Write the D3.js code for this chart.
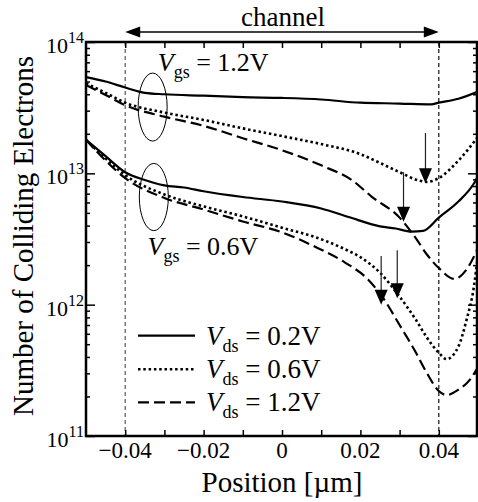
<!DOCTYPE html>
<html>
<head>
<meta charset="utf-8">
<script src="https://cdn.jsdelivr.net/npm/d3@7"></script>
<style>
  body { margin: 0; background: #fff; }
  text { font-family: "Liberation Serif", "Times New Roman", serif; fill: #000; }
</style>
</head>
<body>
<div id="chart"></div>
<script>
// ---- data (position in um, number of colliding electrons) ----
var gs12_ds02 = [[-0.05, 5.4e13], [-0.045, 5.0e13], [-0.04, 4.5e13], [-0.035, 4.1e13], [-0.03, 4.0e13],
  [-0.02, 3.9e13], [-0.01, 3.8e13], [0, 3.75e13], [0.01, 3.65e13], [0.02, 3.45e13], [0.03, 3.4e13],
  [0.038, 3.35e13], [0.04, 3.45e13], [0.045, 3.7e13], [0.05, 4.2e13]];
var gs12_ds06 = [[-0.05, 4.85e13], [-0.045, 4.1e13], [-0.04, 3.45e13], [-0.03, 2.9e13], [-0.02, 2.55e13],
  [-0.01, 2.2e13], [0, 1.92e13], [0.01, 1.67e13], [0.02, 1.4e13], [0.025, 1.2e13], [0.03, 1.02e13],
  [0.035, 8.8e12], [0.037, 8.6e12], [0.04, 9.2e12], [0.045, 1.25e13], [0.05, 1.9e13]];
var gs12_ds12 = [[-0.05, 4.7e13], [-0.045, 3.95e13], [-0.04, 3.3e13], [-0.03, 2.7e13], [-0.02, 2.3e13],
  [-0.01, 1.85e13], [0, 1.5e13], [0.01, 1.15e13], [0.018, 8.8e12], [0.023, 6.6e12], [0.03, 4.6e12],
  [0.034, 3.25e12], [0.037, 2.4e12], [0.04, 1.9e12], [0.044, 1.57e12], [0.047, 1.84e12], [0.05, 2.7e12]];
var gs06_ds02 = [[-0.05, 1.8e13], [-0.045, 1.35e13], [-0.04, 1.02e13], [-0.035, 8.9e12], [-0.03, 8.1e12],
  [-0.025, 7.8e12], [-0.02, 7.3e12], [-0.01, 6.6e12], [0, 6.1e12], [0.01, 5.4e12], [0.017, 4.65e12],
  [0.025, 3.95e12], [0.029, 3.8e12], [0.033, 3.6e12], [0.036, 3.65e12], [0.04, 4.6e12], [0.045, 6.1e12],
  [0.049, 8.4e12], [0.05, 9.5e12]];
var gs06_ds06 = [[-0.05, 1.8e13], [-0.045, 1.3e13], [-0.04, 9.7e12], [-0.03, 6.9e12], [-0.02, 5.6e12],
  [-0.01, 4.7e12], [0, 3.85e12], [0.008, 3.3e12], [0.016, 2.65e12], [0.02, 2.3e12], [0.025, 1.75e12],
  [0.03, 1.15e12], [0.034, 7.8e11], [0.037, 5.6e11], [0.04, 4.3e11], [0.042, 3.85e11], [0.045, 4.8e11],
  [0.047, 7.5e11], [0.049, 1.4e12], [0.05, 2.4e12]];
var gs06_ds12 = [[-0.05, 1.8e13], [-0.045, 1.25e13], [-0.04, 9.2e12], [-0.03, 6.5e12], [-0.02, 5.3e12],
  [-0.01, 4.3e12], [0, 3.55e12], [0.008, 2.8e12], [0.016, 2.1e12], [0.022, 1.55e12], [0.026, 1.1e12],
  [0.03, 7.0e11], [0.034, 4.4e11], [0.037, 3.0e11], [0.04, 2.2e11], [0.042, 2.05e11], [0.045, 2.25e11],
  [0.048, 2.7e11], [0.05, 3.35e11]];

var vdsLabels = ["0.2V", "0.6V", "1.2V"];
var vgsLabels = ["1.2V", "0.6V"];
var xTicks = [-0.04, -0.03, -0.02, -0.01, 0, 0.01, 0.02, 0.03, 0.04];
var xTickLabels = [-0.04, -0.02, 0, 0.02, 0.04];
var yDecades = [1e11, 1e12, 1e13, 1e14];
var channelEdges = [-0.04, 0.04];

// arrows marking the minima (x, top value, tip value)
var arrowX = [0.0366, 0.031, 0.0253, 0.0294];
var arrowTop = [2.03e13, 1.02e13, 2.35e12, 2.6e12];
var arrowTip = [8.4e12, 4.27e12, 1.0e12, 1.12e12];

// ellipses grouping the curves (x, top value, bottom value)
var ellipseX = [-0.033, -0.0327];
var ellipseTop = [5.8e13, 1.19e13];
var ellipseBottom = [1.76e13, 3.66e12];

// Vgs label anchors (x, value at baseline)
var vgsX = [-0.0317, -0.0343];
var vgsY = [6.0e13, 2.4e12];

var svgWidth = 478, svgHeight = 502;
var margin = {top: 42, right: 0, bottom: 66, left: 86};
var width = svgWidth - margin.left - margin.right;
var height = svgHeight - margin.top - margin.bottom;

var svg = d3.select("#chart").append("svg")
  .attr("width", svgWidth)
  .attr("height", svgHeight);

var chartGroup = svg.append("g")
  .attr("transform", `translate(${margin.left}, ${margin.top})`);

var x = d3.scaleLinear().domain([-0.05, 0.05]).range([0, width]);
var y = d3.scaleLog().domain([1e11, 1e14]).range([height, 0]);

// dashed channel edges
chartGroup.selectAll(".edge")
  .data(channelEdges)
  .enter().append("line")
  .attr("x1", d => x(d)).attr("x2", d => x(d))
  .attr("y1", 0).attr("y2", height)
  .attr("stroke", (d, i) => i === 0 ? "#555" : "#111")
  .attr("stroke-width", 1.2)
  .attr("stroke-dasharray", "4,3");

// axes
var minorTicks = y.ticks().filter(d => yDecades.indexOf(d) < 0);

function styleAxis(g) {
  g.select(".domain").remove();
  g.selectAll(".tick line").attr("stroke", "#000").attr("stroke-width", 1.5);
  g.selectAll(".tick text").remove();
}

chartGroup.append("g")
  .attr("transform", `translate(0, ${height})`)
  .call(d3.axisBottom(x).tickValues(xTicks).tickSizeInner(-6).tickSizeOuter(0))
  .call(styleAxis);
chartGroup.append("g")
  .call(d3.axisTop(x).tickValues(xTicks).tickSizeInner(-6).tickSizeOuter(0))
  .call(styleAxis);
chartGroup.append("g")
  .call(d3.axisLeft(y).tickValues(yDecades).tickSizeInner(-9).tickSizeOuter(0))
  .call(styleAxis);
chartGroup.append("g")
  .call(d3.axisLeft(y).tickValues(minorTicks).tickSizeInner(-4).tickSizeOuter(0))
  .call(styleAxis);
chartGroup.append("g")
  .attr("transform", `translate(${width - 1}, 0)`)
  .call(d3.axisRight(y).tickValues(yDecades).tickSizeInner(-9).tickSizeOuter(0))
  .call(styleAxis);
chartGroup.append("g")
  .attr("transform", `translate(${width - 1}, 0)`)
  .call(d3.axisRight(y).tickValues(minorTicks).tickSizeInner(-4).tickSizeOuter(0))
  .call(styleAxis);

// frame
chartGroup.append("rect")
  .attr("x", 0).attr("y", 0)
  .attr("width", width - 1).attr("height", height)
  .attr("fill", "none")
  .attr("stroke", "#000")
  .attr("stroke-width", 2.5);

// x tick labels
chartGroup.selectAll(".xlab")
  .data(xTickLabels)
  .enter().append("text")
  .attr("x", d => x(d))
  .attr("y", height + 22)
  .attr("text-anchor", "middle")
  .style("font-size", "23px")
  .text(d => d === 0 ? "0" : d3.format(".2f")(d));

// y tick labels 10^n
var ylab = chartGroup.selectAll(".ylab")
  .data(yDecades)
  .enter().append("text")
  .attr("x", -2)
  .attr("y", d => y(d) + 11)
  .attr("text-anchor", "end");
ylab.append("tspan").style("font-size", "22px").text("10");
ylab.append("tspan").attr("dy", -10).style("font-size", "16px").text(d => Math.round(Math.log10(d)));

// axis titles
svg.append("text")
  .attr("x", margin.left + x(0))
  .attr("y", 492)
  .attr("text-anchor", "middle")
  .style("font-size", "29px")
  .text("Position [µm]");

svg.append("text")
  .attr("transform", "rotate(-90)")
  .attr("x", -236)
  .attr("y", 33)
  .attr("text-anchor", "middle")
  .style("font-size", "29px")
  .text("Number of Colliding Electrons");

// curves
var dashes = ["none", "2.5,2.8", "11,5"];
var widths = [2.2, 2.6, 2.2];
var series = [gs12_ds02, gs12_ds06, gs12_ds12, gs06_ds02, gs06_ds06, gs06_ds12];

var line = d3.line()
  .x(d => x(d[0]))
  .y(d => y(d[1]))
  .curve(d3.curveMonotoneX);

chartGroup.selectAll(".curve")
  .data(series)
  .enter().append("path")
  .attr("d", line)
  .attr("fill", "none")
  .attr("stroke", "#000")
  .attr("stroke-width", (d, i) => widths[i % 3])
  .attr("stroke-dasharray", (d, i) => dashes[i % 3]);

// ellipses
chartGroup.selectAll(".ring")
  .data(ellipseX)
  .enter().append("ellipse")
  .attr("cx", d => x(d))
  .attr("cy", (d, i) => (y(ellipseTop[i]) + y(ellipseBottom[i])) / 2)
  .attr("rx", 14.5)
  .attr("ry", (d, i) => (y(ellipseBottom[i]) - y(ellipseTop[i])) / 2)
  .attr("fill", "none")
  .attr("stroke", "#000")
  .attr("stroke-width", 1);

// Vgs labels
var vgsText = chartGroup.selectAll(".vgs")
  .data(vgsLabels)
  .enter().append("text")
  .attr("x", (d, i) => x(vgsX[i]))
  .attr("y", (d, i) => y(vgsY[i]))
  .style("font-size", "26px");
vgsText.append("tspan").style("font-style", "italic").text("V");
vgsText.append("tspan").attr("dy", 7).style("font-size", "18px").text("gs");
vgsText.append("tspan").attr("dy", -7).text(d => " = " + d);

// arrows
arrowX.forEach(function(ax, i) {
  var px = x(ax), top = y(arrowTop[i]), tip = y(arrowTip[i]);
  chartGroup.append("line")
    .attr("x1", px).attr("x2", px)
    .attr("y1", top).attr("y2", tip - 10)
    .attr("stroke", "#222")
    .attr("stroke-width", 1.2);
  chartGroup.append("path")
    .attr("d", `M${px},${tip} L${px - 6.5},${tip - 15} L${px + 6.5},${tip - 15} Z`)
    .attr("fill", "#000");
});

// channel arrow
var cy = -10;
var cx0 = x(channelEdges[0]), cx1 = x(channelEdges[1]);
chartGroup.append("line")
  .attr("x1", cx0 + 8).attr("x2", cx1 - 8)
  .attr("y1", cy).attr("y2", cy)
  .attr("stroke", "#000")
  .attr("stroke-width", 1.3);
chartGroup.append("path")
  .attr("d", `M${cx0},${cy} L${cx0 + 15},${cy - 5.5} L${cx0 + 15},${cy + 5.5} Z`)
  .attr("fill", "#000");
chartGroup.append("path")
  .attr("d", `M${cx1},${cy} L${cx1 - 15},${cy - 5.5} L${cx1 - 15},${cy + 5.5} Z`)
  .attr("fill", "#000");
chartGroup.append("text")
  .attr("x", x(0) + 1)
  .attr("y", cy - 6)
  .attr("text-anchor", "middle")
  .style("font-size", "27px")
  .text("channel");

// legend
var legendY = [335.7, 369.3, 402.3];
var legend = svg.selectAll(".legend")
  .data(vdsLabels)
  .enter().append("g")
  .attr("transform", (d, i) => `translate(138, ${legendY[i]})`);
legend.append("line")
  .attr("x1", 0).attr("x2", 57)
  .attr("y1", 0).attr("y2", 0)
  .attr("stroke", "#000")
  .attr("stroke-width", (d, i) => widths[i])
  .attr("stroke-dasharray", (d, i) => dashes[i]);
var legendText = legend.append("text")
  .attr("x", 68)
  .attr("y", 9)
  .style("font-size", "27px");
legendText.append("tspan").style("font-style", "italic").text("V");
legendText.append("tspan").attr("dy", 7).style("font-size", "18px").text("ds");
legendText.append("tspan").attr("dy", -7).text(d => " = " + d);
</script>
</body>
</html>
